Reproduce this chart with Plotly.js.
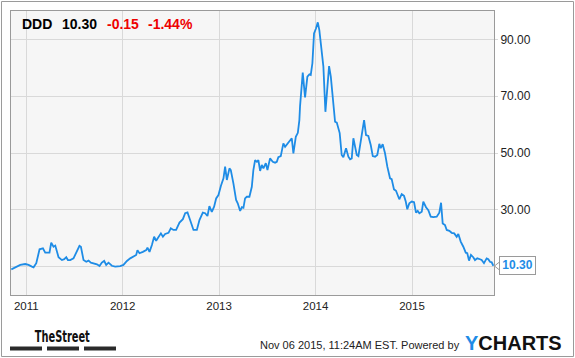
<!DOCTYPE html>
<html>
<head>
<meta charset="utf-8">
<script src="https://cdn.plot.ly/plotly-3.0.1.min.js"></script>
<style>
  html, body { margin: 0; padding: 0; background: #ffffff; }
  #chart { width: 575px; height: 358px; }
</style>
</head>
<body>
<div id="chart"></div>
<script>
// ---- data (x as decimal years, y as DDD share price in USD) ----
var years = [
  2010.845, 2010.868, 2010.938, 2010.990, 2011.024, 2011.059, 2011.076, 2011.104, 2011.138, 2011.173,
  2011.197, 2011.241, 2011.259, 2011.283, 2011.301, 2011.335, 2011.352, 2011.370, 2011.394, 2011.415,
  2011.432, 2011.456, 2011.490, 2011.532, 2011.552, 2011.567, 2011.594, 2011.622, 2011.646, 2011.670,
  2011.697, 2011.733, 2011.760, 2011.784, 2011.808, 2011.829, 2011.853, 2011.888, 2011.922, 2011.974,
  2012.008, 2012.044, 2012.078, 2012.112, 2012.140, 2012.153, 2012.174, 2012.209, 2012.244, 2012.257,
  2012.278, 2012.303, 2012.326, 2012.347, 2012.371, 2012.396, 2012.417, 2012.440, 2012.475, 2012.499,
  2012.526, 2012.554, 2012.589, 2012.624, 2012.648, 2012.672, 2012.699, 2012.734, 2012.769, 2012.796,
  2012.831, 2012.855, 2012.879, 2012.899, 2012.924, 2012.948, 2012.969, 2012.993, 2013.018, 2013.045,
  2013.062, 2013.080, 2013.107, 2013.121, 2013.148, 2013.176, 2013.193, 2013.218, 2013.236, 2013.252,
  2013.269, 2013.287, 2013.314, 2013.339, 2013.355, 2013.373, 2013.391, 2013.407, 2013.425, 2013.442,
  2013.459, 2013.484, 2013.501, 2013.528, 2013.556, 2013.580, 2013.598, 2013.614, 2013.639, 2013.666,
  2013.684, 2013.708, 2013.736, 2013.753, 2013.770, 2013.795, 2013.816, 2013.832, 2013.839, 2013.867,
  2013.891, 2013.915, 2013.936, 2013.950, 2013.967, 2013.984, 2014.005, 2014.023, 2014.039, 2014.057,
  2014.081, 2014.102, 2014.122, 2014.140, 2014.158, 2014.185, 2014.202, 2014.220, 2014.250, 2014.271,
  2014.288, 2014.316, 2014.340, 2014.358, 2014.375, 2014.392, 2014.409, 2014.427, 2014.444, 2014.468,
  2014.503, 2014.523, 2014.547, 2014.572, 2014.593, 2014.617, 2014.640, 2014.661, 2014.676, 2014.696,
  2014.720, 2014.744, 2014.772, 2014.789, 2014.813, 2014.834, 2014.848, 2014.868, 2014.893, 2014.917,
  2014.935, 2014.951, 2014.972, 2014.997, 2015.021, 2015.041, 2015.059, 2015.076, 2015.101, 2015.117,
  2015.145, 2015.169, 2015.194, 2015.221, 2015.256, 2015.283, 2015.301, 2015.318, 2015.342, 2015.360,
  2015.387, 2015.411, 2015.438, 2015.463, 2015.480, 2015.505, 2015.532, 2015.557, 2015.573, 2015.591,
  2015.611, 2015.635, 2015.653, 2015.677, 2015.705, 2015.722, 2015.746, 2015.774, 2015.791, 2015.808,
  2015.826, 2015.843
];
var prices = [
  9.0, 9.4, 10.6, 10.9, 10.6, 10.0, 9.75, 11.2, 16.1, 16.4,
  14.9, 14.9, 18.4, 17.0, 17.4, 13.3, 12.9, 12.3, 12.6, 13.3,
  12.3, 12.3, 12.9, 15.8, 17.3, 17.0, 12.3, 11.7, 12.1, 11.4,
  11.2, 10.8, 10.2, 11.4, 12.0, 10.6, 11.4, 10.3, 10.0, 10.2,
  10.6, 12.0, 12.9, 13.7, 14.1, 15.8, 14.7, 15.2, 15.8, 16.7,
  15.2, 17.6, 20.5, 19.1, 20.3, 21.7, 20.5, 21.5, 21.9, 23.5,
  22.9, 22.9, 25.5, 26.7, 28.8, 29.1, 26.4, 22.9, 22.9, 26.4,
  29.0, 28.8, 27.8, 31.3, 29.3, 31.1, 34.0, 35.2, 38.4, 41.1,
  45.2, 40.5, 44.6, 44.0, 39.3, 33.5, 32.3, 29.6, 30.9, 30.7,
  34.0, 34.6, 34.6, 38.1, 44.0, 47.5, 46.9, 47.5, 43.7, 45.8,
  44.6, 46.4, 44.0, 48.1, 46.9, 46.6, 46.9, 48.5, 48.9, 53.4,
  52.2, 53.4, 54.8, 55.2, 49.9, 55.7, 57.1, 61.6, 66.5, 78.3,
  69.6, 76.9, 77.7, 77.5, 81.6, 92.1, 93.9, 96.0, 93.3, 87.4,
  80.4, 64.5, 73.3, 80.6, 76.9, 67.5, 61.0, 60.7, 57.0, 49.3,
  48.5, 51.7, 48.7, 47.8, 48.1, 55.2, 51.7, 49.3, 48.9, 54.6,
  61.6, 56.3, 56.0, 52.8, 48.9, 48.7, 49.3, 53.2, 51.7, 53.1,
  49.9, 45.2, 41.1, 40.8, 37.2, 36.7, 35.2, 33.7, 35.5, 34.9,
  32.9, 30.2, 32.3, 32.9, 32.7, 29.0, 29.6, 28.8, 29.3, 32.9,
  30.9, 29.9, 27.6, 27.4, 27.6, 29.0, 32.5, 25.2, 24.6, 22.9,
  22.6, 21.9, 21.7, 20.5, 21.5, 18.8, 17.0, 14.9, 14.7, 12.1,
  14.1, 13.3, 12.3, 12.9, 12.6, 12.3, 11.2, 12.9, 12.6, 11.7,
  11.5, 10.30
];
var xTickVals = [2011, 2012, 2013, 2014, 2015];
var xTickText = ["2011", "2012", "2013", "2014", "2015"];
var yTickVals = [10, 30, 50, 70, 90];
var yTickText = ["", "30.00", "50.00", "70.00", "90.00"];
var ticker = "DDD";
var lastPrice = "10.30";
var change = "-0.15";
var changePct = "-1.44%";
var stamp = "Nov 06 2015, 11:24AM EST. Powered by";
var brand = "TheStreet";

var BLUE = "#1e8ce6";
var FONT = "Liberation Sans, Arial, Helvetica, sans-serif";

var trace = {
  x: years,
  y: prices,
  type: "scatter",
  mode: "lines",
  line: { color: BLUE, width: 1.8 },
  hoverinfo: "skip"
};

var layout = {
  width: 575,
  height: 358,
  margin: { l: 11, r: 81, t: 11, b: 63, pad: 0 },
  paper_bgcolor: "#ffffff",
  plot_bgcolor: "#f6f6f6",
  showlegend: false,
  font: { family: FONT, color: "#222" },
  xaxis: {
    type: "linear",
    range: [2010.842, 2015.85],
    tickvals: xTickVals,
    ticktext: xTickText,
    showgrid: true,
    gridcolor: "#d9d9d9",
    gridwidth: 1,
    zeroline: false,
    showline: true,
    mirror: true,
    linecolor: "#9a9a9a",
    linewidth: 1,
    ticks: "",
    tickfont: { family: FONT, size: 11.5, color: "#222" },
    fixedrange: true
  },
  yaxis: {
    side: "right",
    range: [0, 100],
    tickvals: yTickVals,
    ticktext: yTickText,
    showgrid: true,
    gridcolor: "#d9d9d9",
    gridwidth: 1,
    zeroline: false,
    showline: true,
    mirror: true,
    linecolor: "#9a9a9a",
    linewidth: 1,
    ticks: "outside",
    ticklen: 3,
    tickcolor: "#d9d9d9",
    tickfont: { family: FONT, size: 12, color: "#222" },
    fixedrange: true
  },
  shapes: [
    // outer frame
    { type: "rect", xref: "paper", yref: "paper",
      x0: -0.01967, x1: 1.16460, y0: -0.21655, y1: 1.03345,
      line: { color: "#9a9a9a", width: 1 }, fillcolor: "rgba(0,0,0,0)", layer: "above" },
    // TheStreet underline bars
    { type: "rect", xref: "paper", yref: "paper", x0: -0.00207, x1: 0.06418, y0: -0.19542, y1: -0.18134,
      line: { width: 0 }, fillcolor: "#2a2a2a" },
    { type: "rect", xref: "paper", yref: "paper", x0: 0.07453, x1: 0.14079, y0: -0.19542, y1: -0.18134,
      line: { width: 0 }, fillcolor: "#2a2a2a" },
    { type: "rect", xref: "paper", yref: "paper", x0: 0.15114, x1: 0.21739, y0: -0.19542, y1: -0.18134,
      line: { width: 0 }, fillcolor: "#2a2a2a" },
    // notch of last-price label
    { type: "path", xref: "paper", yref: "paper",
      path: "M 1.0114 0.1162 L 1.0010 0.1021 L 1.0114 0.0880 Z",
      fillcolor: "#ffffff", line: { color: "#9a9a9a", width: 1 }, layer: "above" }
  ],
  annotations: [
    { xref: "paper", yref: "paper", x: 0.018, y: 0.954, xanchor: "left", yanchor: "middle",
      text: "<b>" + ticker + "</b>", showarrow: false, font: { family: FONT, size: 14, color: "#000" } },
    { xref: "paper", yref: "paper", x: 0.102, y: 0.954, xanchor: "left", yanchor: "middle",
      text: "<b>" + lastPrice + "</b>", showarrow: false, font: { family: FONT, size: 14, color: "#000" } },
    { xref: "paper", yref: "paper", x: 0.194, y: 0.954, xanchor: "left", yanchor: "middle",
      text: "<b>" + change + "</b>", showarrow: false, font: { family: FONT, size: 14, color: "#ee0000" } },
    { xref: "paper", yref: "paper", x: 0.280, y: 0.954, xanchor: "left", yanchor: "middle",
      text: "<b>" + changePct + "</b>", showarrow: false, font: { family: FONT, size: 14, color: "#ee0000" } },
    // last price tag
    { xref: "paper", yref: "y", x: 1.0110, y: prices[prices.length - 1], xanchor: "left", yanchor: "middle",
      text: "<b>" + lastPrice + "</b>", showarrow: false, bgcolor: "#ffffff", bordercolor: "#9a9a9a",
      borderwidth: 1, borderpad: 0, width: 35, height: 16.5, align: "center",
      font: { family: FONT, size: 12, color: BLUE } },
    // footer
    { xref: "paper", yref: "paper", x: 0.107, y: -0.1444, xanchor: "center", yanchor: "middle",
      text: "<b>" + brand + "</b>", showarrow: false,
      font: { family: "Liberation Sans Narrow, DejaVu Sans Condensed, Arial Narrow, sans-serif", size: 16, color: "#111" } },
    { xref: "paper", yref: "paper", x: 0.9337, y: -0.1743, xanchor: "right", yanchor: "middle",
      text: stamp, showarrow: false, font: { family: FONT, size: 11, color: "#222" } },
    { xref: "paper", yref: "paper", x: 0.9358, y: -0.169, xanchor: "left", yanchor: "middle",
      text: "<b><span style='color:" + BLUE + "'>Y</span>CHARTS</b>", showarrow: false,
      font: { family: FONT, size: 20, color: "#111" } }
  ]
};

Plotly.newPlot("chart", [trace], layout, { staticPlot: true, displayModeBar: false }).then(function (gd) {
  // condense the "TheStreet" wordmark to its narrow logo width
  var texts = gd.querySelectorAll(".annotation-text");
  texts.forEach(function (t) {
    if (t.textContent === brand) {
      t.setAttribute("textLength", "55");
      t.setAttribute("lengthAdjust", "spacingAndGlyphs");
    }
  });
});
</script>
</body>
</html>
